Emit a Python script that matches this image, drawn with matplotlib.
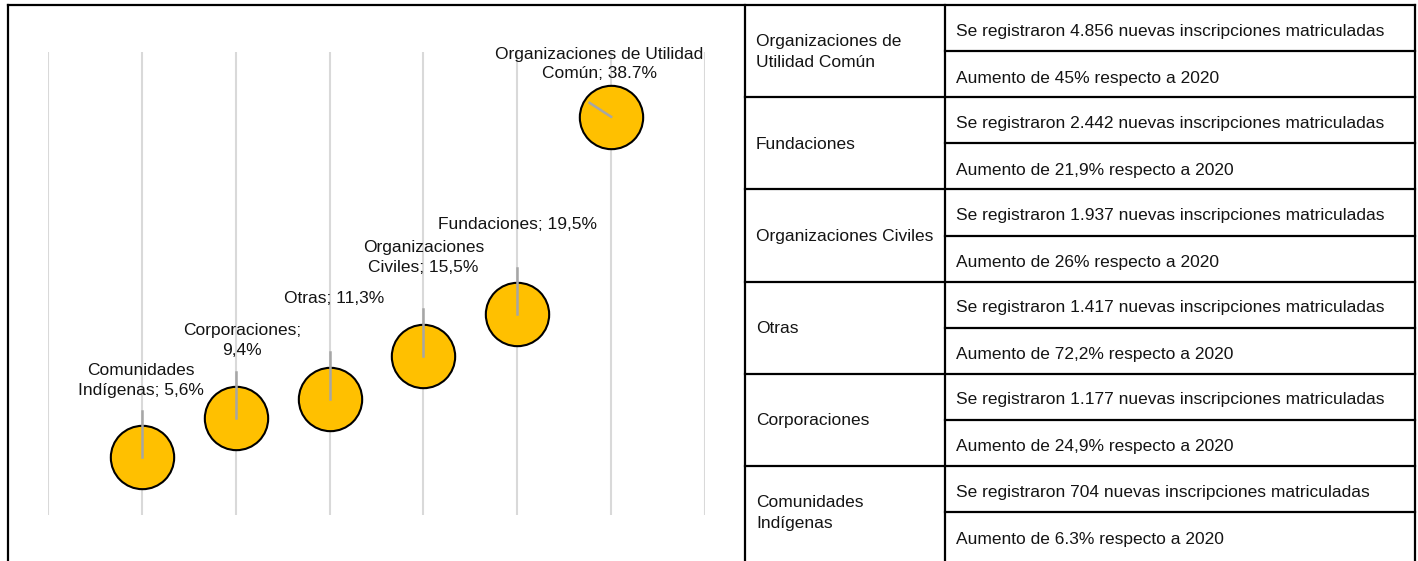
import matplotlib.pyplot as plt
from matplotlib.lines import Line2D

plt.rcParams['font.family'] = ['Liberation Sans', 'DejaVu Sans']

# data
categorias = ["Comunidades Indígenas", "Corporaciones", "Otras",
              "Organizaciones Civiles", "Fundaciones",
              "Organizaciones de Utilidad Común"]
participacion = [5.6, 9.4, 11.3, 15.5, 19.5, 38.7]
etiquetas = ["Comunidades\nIndígenas; 5,6%", "Corporaciones;\n9,4%", "Otras; 11,3%",
             "Organizaciones\nCiviles; 15,5%", "Fundaciones; 19,5%",
             "Organizaciones de Utilidad\nComún; 38.7%"]

tabla_tipos = ["Organizaciones de\nUtilidad Común", "Fundaciones", "Organizaciones Civiles",
               "Otras", "Corporaciones", "Comunidades\nIndígenas"]
inscripciones = ["4.856", "2.442", "1.937", "1.417", "1.177", "704"]
aumentos = ["45%", "21,9%", "26%", "72,2%", "24,9%", "6.3%"]

# layout (pixels)
W, H = 1418, 561
label_off = [(-1, 77), (6, 78), (5, 100), (0, 98), (0, 90), (-12, 53)]
leader = [(0, 4.5), (0, 4.5), (0, 4.5), (0, 4.5), (0, 4.5), (-0.23, 1.36)]
txt_col = '#141414'

fig = plt.figure(figsize=(W / 100, H / 100), dpi=100)


def px(x, y):
    return x / W, 1 - y / H


def fline(x0, y0, x1, y1, lw=1.6):
    a, b = px(x0, y0)
    c, d = px(x1, y1)
    fig.add_artist(Line2D([a, c], [b, d], transform=fig.transFigure,
                          color='black', lw=lw, solid_capstyle='projecting'))


# bubble chart
ax = fig.add_axes([48 / W, 1 - 515 / H, 657 / W, 463 / H])
xs = list(range(1, len(participacion) + 1))
ax.set_xlim(0, 7)
ax.set_ylim(0, 45)
for g in range(0, 8):
    ax.axvline(g, color='#d9d9d9', lw=1.5, zorder=0)
ax.scatter(xs, participacion, s=2080, color='#FFC000', edgecolor='black',
           linewidth=1.5, zorder=3)
for x, v, lab, off, ld in zip(xs, participacion, etiquetas, label_off, leader):
    ax.plot([x, x + ld[0]], [v, v + ld[1]], color='#a6a6a6', lw=1.8, zorder=4)
    ax.annotate(lab, (x, v), xytext=off, textcoords='offset pixels',
                ha='center', va='center', fontsize=12.5, color=txt_col,
                linespacing=1.38)
ax.axis('off')

# frame
top = 5
fline(8, top, 1415, top)
fline(8, top, 8, H + 2)
fline(745, top, 745, H + 2)
fline(945, top, 945, H + 2)
fline(1415, top, 1415, H + 2)

# table
row_h = 92.2
for i, (tipo, ins, aum) in enumerate(zip(tabla_tipos, inscripciones, aumentos)):
    y0 = top + i * row_h
    if i > 0:
        fline(745, y0, 1415, y0)
    fline(945, y0 + row_h / 2, 1415, y0 + row_h / 2)
    fig.text(*px(756, y0 + row_h / 2 + 1), tipo, ha='left', va='center',
             fontsize=12.5, color=txt_col, linespacing=1.45)
    fig.text(*px(956, y0 + row_h / 4 + 3), "Se registraron " + ins + " nuevas inscripciones matriculadas",
             ha='left', va='center', fontsize=12.5, color=txt_col)
    fig.text(*px(956, y0 + 3 * row_h / 4 + 4), "Aumento de " + aum + " respecto a 2020",
             ha='left', va='center', fontsize=12.5, color=txt_col)

fig.savefig('out.png', dpi=100)
